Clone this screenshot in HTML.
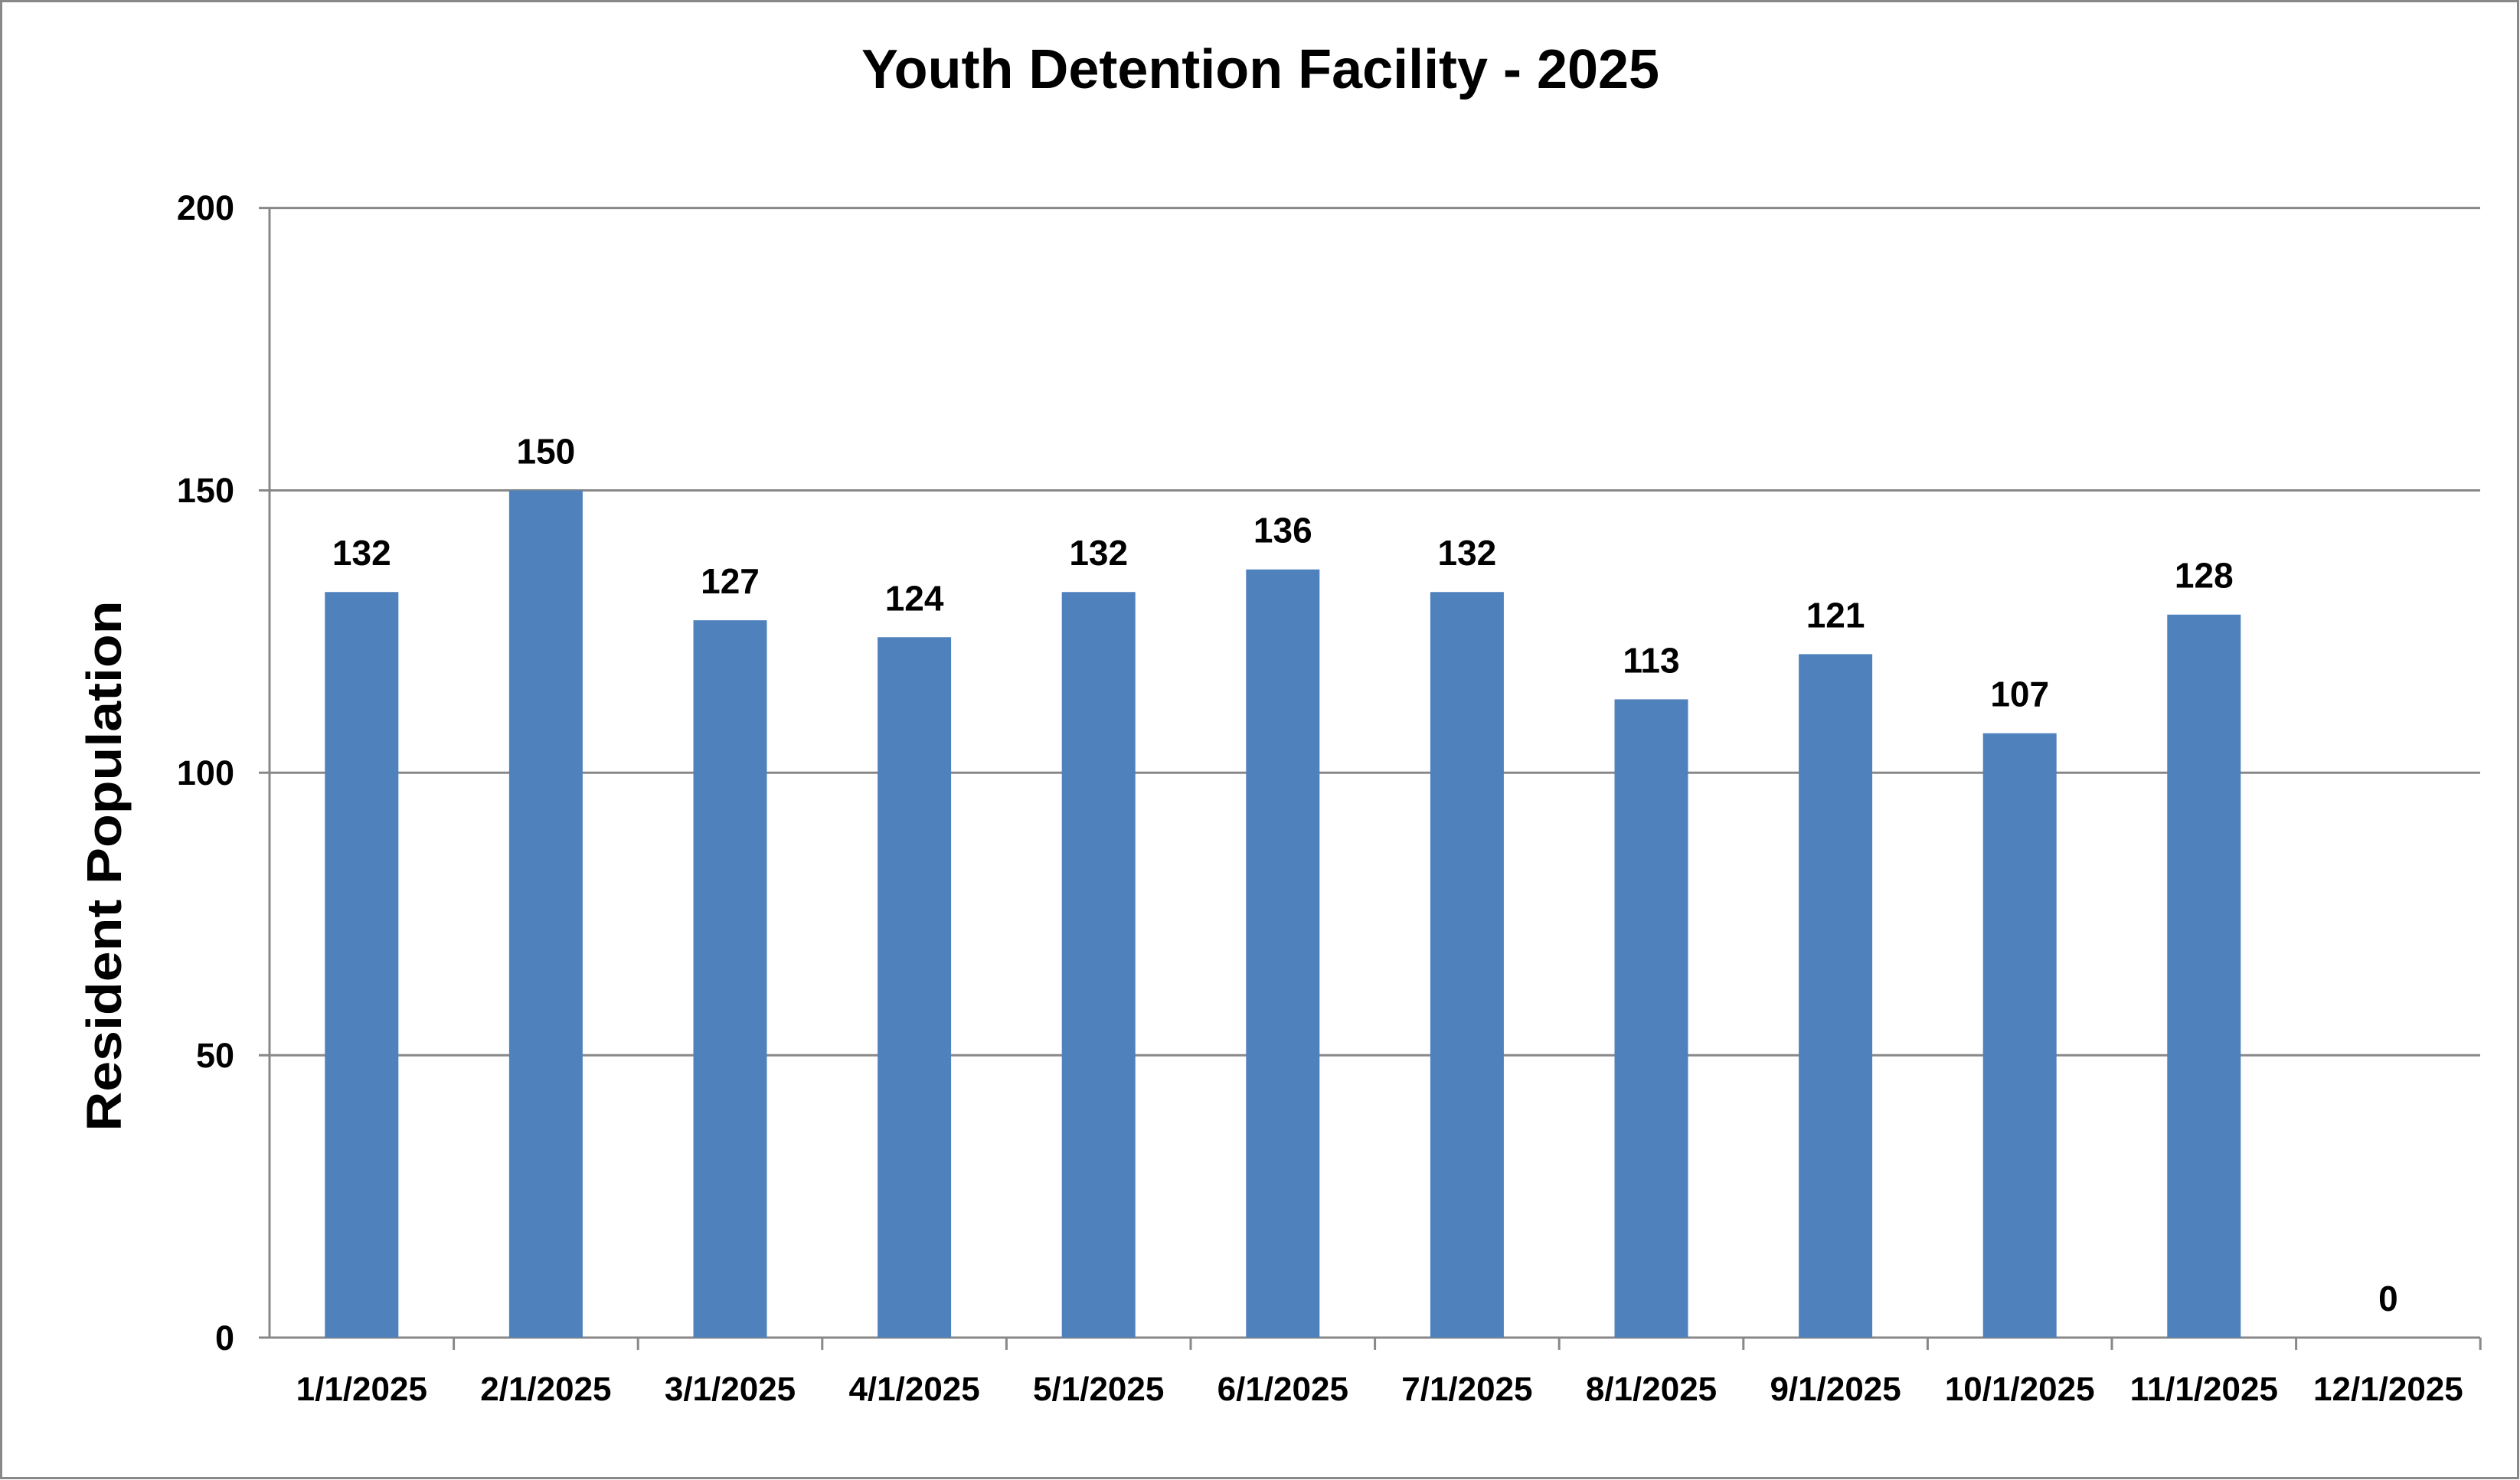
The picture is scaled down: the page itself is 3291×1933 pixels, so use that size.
<!DOCTYPE html>
<html><head><meta charset="utf-8"><style>html,body{margin:0;padding:0;background:#fff}svg{display:block}</style></head>
<body>
<svg width="3291" height="1933" viewBox="0 0 3291 1933" xmlns="http://www.w3.org/2000/svg" font-family="Liberation Sans, sans-serif" font-weight="bold">
<rect x="1.5" y="1.5" width="3287" height="1929" fill="#fff" stroke="#888" stroke-width="3"/>
<text x="1646" y="115" font-size="72" text-anchor="middle" textLength="1042" lengthAdjust="spacingAndGlyphs">Youth Detention Facility - 2025</text>
<g stroke="#888" stroke-width="3">
<line x1="338" y1="271.6" x2="3239" y2="271.6"/>
<line x1="338" y1="640.5" x2="3239" y2="640.5"/>
<line x1="338" y1="1009.3" x2="3239" y2="1009.3"/>
<line x1="338" y1="1378.2" x2="3239" y2="1378.2"/>
<line x1="338" y1="1747" x2="3239" y2="1747"/>
<line x1="352" y1="271.6" x2="352" y2="1747"/>
</g>
<g stroke="#888" stroke-width="3" id="ticks"></g>
<g font-size="45" text-anchor="end">
<text x="306" y="287">200</text>
<text x="306" y="656">150</text>
<text x="306" y="1025">100</text>
<text x="306" y="1394">50</text>
<text x="306" y="1763">0</text>
</g>
<text transform="translate(158,1131) rotate(-90)" font-size="64" text-anchor="middle" textLength="693" lengthAdjust="spacingAndGlyphs">Resident Population</text>
<g id="bars"></g>
<script>
var d=[132,150,127,124,132,136,132,113,121,107,128,0];
var ns="http://www.w3.org/2000/svg",bars=document.getElementById("bars"),tk=document.getElementById("ticks");
var L=352,W=240.6,y0=1747,k=7.377;
for(var i=0;i<12;i++){
 var c=L+W*(i+0.5),h=d[i]*k;
 var t=document.createElementNS(ns,"line");t.setAttribute("x1",L+W*(i+1));t.setAttribute("x2",L+W*(i+1));t.setAttribute("y1",1747);t.setAttribute("y2",1763);tk.appendChild(t);
 if(h>0){var r=document.createElementNS(ns,"rect");r.setAttribute("x",c-48);r.setAttribute("width",96);r.setAttribute("y",y0-h);r.setAttribute("height",h);r.setAttribute("fill","#4F81BD");bars.appendChild(r);}
 var v=document.createElementNS(ns,"text");v.setAttribute("x",c);v.setAttribute("y",y0-h-35);v.setAttribute("font-size","46");v.setAttribute("text-anchor","middle");v.textContent=d[i];bars.appendChild(v);
 var x=document.createElementNS(ns,"text");x.setAttribute("x",c);x.setAttribute("y",1829);x.setAttribute("font-size","44");x.setAttribute("text-anchor","middle");x.textContent=(i+1)+"/1/2025";bars.appendChild(x);
}
</script>
</svg>
</body></html>
